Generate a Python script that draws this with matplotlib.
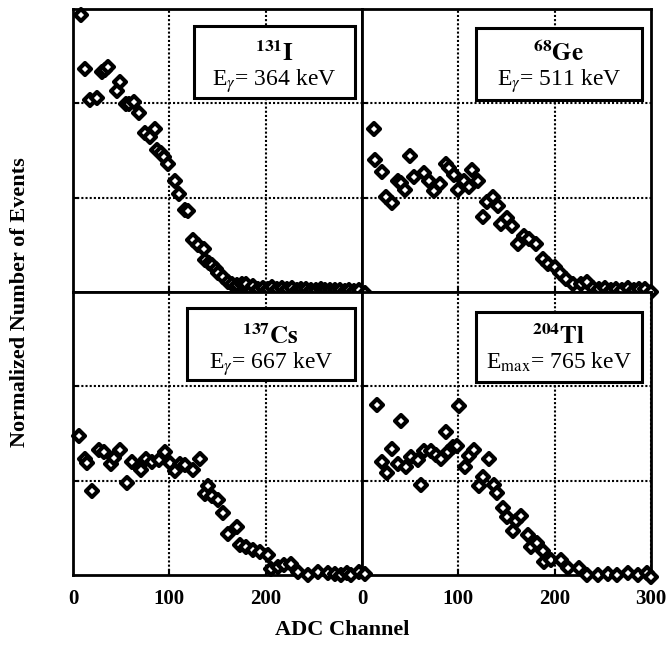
import matplotlib
matplotlib.use("Agg")
import matplotlib.pyplot as plt
from matplotlib.markers import MarkerStyle
from matplotlib.patches import Rectangle

plt.rcParams['font.family'] = ['Liberation Serif', 'DejaVu Serif']
plt.rcParams['mathtext.fontset'] = 'stix'

# ---- data (ADC channel, normalized events) ----
i131_x = [8, 12, 18, 25, 30, 33, 36.5, 46, 49, 54.5, 58, 63, 68, 75, 80, 85, 87, 91, 94, 99,
          105.5, 109.6, 116, 119, 125, 130, 135.5, 137, 141, 144, 148, 151, 156, 161, 165, 170,
          175, 180, 187, 192, 197, 202, 207, 212, 217, 222, 227, 232, 237, 242, 247, 252, 257,
          262, 267, 272, 277, 282, 287, 292, 297]
i131_y = [2.94, 2.36, 2.03, 2.06, 2.33, 2.35, 2.38, 2.13, 2.23, 1.99, 1.99, 2.01, 1.90, 1.69,
          1.64, 1.73, 1.50, 1.47, 1.43, 1.36, 1.18, 1.04, 0.87, 0.86, 0.55, 0.50, 0.46, 0.34,
          0.31, 0.29, 0.24, 0.20, 0.16, 0.11, 0.09, 0.07, 0.08, 0.09, 0.06, 0.03, 0.04, 0.03,
          0.05, 0.03, 0.04, 0.03, 0.04, 0.02, 0.03, 0.03, 0.02, 0.02, 0.03, 0.02, 0.02, 0.02,
          0.02, 0.01, 0.02, 0.01, 0.02]

ge68_x = [3, 12, 13.5, 20.5, 25, 31, 37, 40.5, 44.5, 50, 54.4, 64, 70, 75, 81, 87, 90.7, 95,
          100, 106, 111.5, 114, 120, 126, 130, 135.5, 141, 144, 150, 156, 162, 168.5, 173.7,
          180.7, 187.6, 193.5, 200, 206, 212, 219, 227.5, 234, 240, 246, 252, 258, 264, 270,
          276, 282, 288, 294, 300]
ge68_y = [-0.01, 1.73, 1.40, 1.27, 1.01, 0.94, 1.18, 1.16, 1.08, 1.44, 1.22, 1.26, 1.18, 1.07,
          1.15, 1.36, 1.31, 1.24, 1.08, 1.18, 1.11, 1.29, 1.18, 0.79, 0.95, 1.01, 0.91, 0.72,
          0.78, 0.70, 0.51, 0.59, 0.56, 0.51, 0.35, 0.30, 0.27, 0.20, 0.14, 0.09, 0.09, 0.11,
          0.04, 0.03, 0.04, 0.02, 0.03, 0.02, 0.04, 0.02, 0.03, 0.03, 0.0]

cs137_x = [6, 12.4, 15, 20, 27, 32, 39, 42.4, 49, 56, 61, 68, 71, 76, 82, 89, 95, 101, 106,
           111, 116.5, 125, 132, 137, 140.6, 144, 151, 156, 160.6, 170, 173.4, 180, 187, 194,
           202, 206, 213, 219, 226, 234, 244, 254, 265, 272, 278, 284, 289, 297]
cs137_y = [1.47, 1.23, 1.19, 0.89, 1.33, 1.30, 1.18, 1.24, 1.32, 0.98, 1.20, 1.15, 1.11, 1.23,
           1.20, 1.22, 1.30, 1.19, 1.10, 1.18, 1.17, 1.11, 1.23, 0.86, 0.94, 0.84, 0.80, 0.66,
           0.44, 0.51, 0.32, 0.30, 0.27, 0.24, 0.21, 0.06, 0.09, 0.11, 0.12, 0.03, 0.0, 0.03,
           0.02, 0.01, 0.0, 0.02, 0.0, 0.03]

tl204_x = [3, 15.6, 20.5, 26, 31, 37, 40.5, 45.7, 51, 58, 61, 64, 71.7, 77, 82, 87, 89.6, 94,
           98.6, 101, 107, 111.4, 116, 121, 126, 132, 137, 140, 146, 151, 156.5, 160, 165, 172,
           175.5, 181.7, 187.6, 189, 196, 206.6, 213.6, 225.6, 234, 245, 255, 265, 276, 286,
           296, 300]
tl204_y = [0.01, 1.80, 1.20, 1.08, 1.34, 1.18, 1.63, 1.14, 1.25, 1.22, 0.95, 1.31, 1.31, 1.27,
           1.23, 1.52, 1.30, 1.36, 1.37, 1.79, 1.14, 1.26, 1.33, 0.94, 1.04, 1.23, 0.95, 0.87,
           0.71, 0.62, 0.47, 0.57, 0.63, 0.42, 0.30, 0.34, 0.25, 0.14, 0.16, 0.16, 0.07, 0.07,
           0.0, 0.0, 0.01, 0.0, 0.02, 0.0, 0.02, -0.02]

panels = [
    (i131_x, i131_y, '131', 'I', r'E$_{\gamma}$= 364 keV'),
    (ge68_x, ge68_y, '68', 'Ge', r'E$_{\gamma}$= 511 keV'),
    (cs137_x, cs137_y, '137', 'Cs', r'E$_{\gamma}$= 667 keV'),
    (tl204_x, tl204_y, '204', 'Tl', r'E$_{\rm max}$= 765 keV'),
]
# label boxes in axes fraction: x0, x1, y0, y1
boxes = [(0.419, 0.976, 0.686, 0.940),
         (0.394, 0.968, 0.678, 0.933),
         (0.393, 0.976, 0.689, 0.943),
         (0.394, 0.968, 0.683, 0.930)]

fig, axs = plt.subplots(2, 2, figsize=(6.68, 6.51), dpi=100)
fig.subplots_adjust(left=0.1093, right=0.9746, top=0.9862, bottom=0.1167,
                    wspace=0, hspace=0)

mk = MarkerStyle('D', joinstyle='round')

for k, ax in enumerate(axs.flat):
    x, y, mass, elem, energy = panels[k]
    ax.plot(x, y, linestyle='none', marker=mk, ms=6, mew=3,
            mfc='white', mec='black', clip_on=False, zorder=5)
    ax.set_xlim(0, 300)
    ax.set_ylim(0, 3)
    ax.set_xticks([100, 200])
    ax.set_yticks([1, 2])
    ax.grid(True, color='black', linestyle=(0, (1, 1)), linewidth=1.5)
    for s in ax.spines.values():
        s.set_linewidth(2)
    ax.tick_params(direction='in', length=4, width=1.5, labelleft=False,
                   labelbottom=False)

    x0, x1, y0, y1 = boxes[k]
    ax.add_patch(Rectangle((x0, y0), x1 - x0, y1 - y0, transform=ax.transAxes,
                           facecolor='white', edgecolor='black', linewidth=2.2,
                           zorder=6))
    cx = (x0 + x1) / 2
    ax.text(cx, 0.815, r'${}^{\mathbf{%s}}\mathbf{%s}$' % (mass, elem),
            transform=ax.transAxes, ha='center', va='baseline', fontsize=18,
            zorder=7)
    ax.text(cx, 0.73, energy, transform=ax.transAxes, ha='center',
            va='baseline', fontsize=17, zorder=7)

# bottom tick labels
for k, ax in enumerate(axs[1]):
    ticks = [0, 100, 200] if k == 0 else [0, 100, 200, 300]
    ax.set_xticks(ticks)
    ax.set_xticklabels([str(t) for t in ticks], fontweight='bold')
    ax.tick_params(labelbottom=True, labelsize=15, pad=10)
    for t, lab in zip(ticks, ax.get_xticklines()[::2]):
        if t in (0, 300):
            lab.set_visible(False)

fig.text(0.513, 0.032, 'ADC Channel', ha='center', va='center',
         fontsize=16, fontweight='bold')
fig.text(0.03, 0.536, 'Normalized Number of Events', ha='center', va='center',
         rotation=90, fontsize=16, fontweight='bold')

fig.savefig('out.png', dpi=100)
